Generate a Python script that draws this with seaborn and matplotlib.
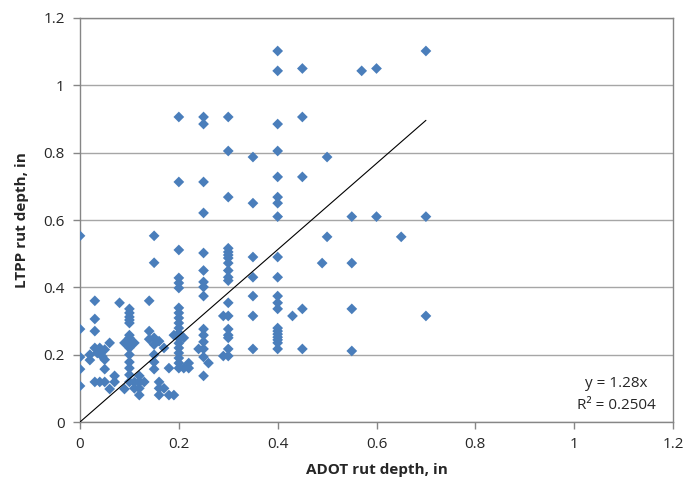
import matplotlib
matplotlib.use("Agg")
import matplotlib.pyplot as plt
import seaborn as sns
import pandas as pd

# ADOT (x) vs LTPP (y) rut depth, grouped by ADOT value
adot_cols = [0.0, 0.02, 0.03, 0.035, 0.04, 0.045, 0.05, 0.06, 0.07, 0.08, 0.09,
             0.1, 0.11, 0.12, 0.13, 0.14, 0.15, 0.16, 0.17, 0.18, 0.19,
             0.2, 0.21, 0.22, 0.24, 0.25, 0.26, 0.29, 0.3, 0.35, 0.4,
             0.43, 0.45, 0.49, 0.5, 0.55, 0.57, 0.6, 0.65, 0.7]
ltpp_vals = [
    [0.553, 0.276, 0.193, 0.157, 0.107],
    [0.2, 0.184],
    [0.36, 0.306, 0.27, 0.22, 0.119],
    [0.205],
    [0.22, 0.205, 0.119],
    [0.195],
    [0.215, 0.185, 0.157, 0.119],
    [0.235, 0.098],
    [0.137, 0.119],
    [0.354],
    [0.235, 0.098],
    [0.336, 0.324, 0.312, 0.303, 0.294, 0.258, 0.25, 0.235, 0.22, 0.2, 0.178, 0.16, 0.14, 0.119],
    [0.235, 0.119, 0.1],
    [0.137, 0.119, 0.1, 0.08],
    [0.119],
    [0.36, 0.27, 0.246],
    [0.553, 0.473, 0.25, 0.23, 0.2, 0.178, 0.157],
    [0.24, 0.119, 0.1, 0.08],
    [0.22, 0.1],
    [0.16, 0.08],
    [0.258, 0.08],
    [0.906, 0.713, 0.511, 0.428, 0.413, 0.398, 0.339, 0.324, 0.309, 0.294, 0.279,
     0.264, 0.249, 0.234, 0.22, 0.205, 0.19, 0.175, 0.16],
    [0.25, 0.16],
    [0.175, 0.16],
    [0.217],
    [0.906, 0.885, 0.713, 0.621, 0.502, 0.45, 0.416, 0.401, 0.374, 0.276, 0.258,
     0.238, 0.217, 0.193, 0.137],
    [0.175],
    [0.315, 0.196],
    [0.906, 0.805, 0.668, 0.516, 0.505, 0.496, 0.487, 0.472, 0.45, 0.43, 0.42,
     0.354, 0.315, 0.276, 0.258, 0.25, 0.217, 0.196],
    [0.787, 0.65, 0.49, 0.43, 0.374, 0.315, 0.217],
    [1.102, 1.043, 0.885, 0.805, 0.728, 0.668, 0.65, 0.61, 0.49, 0.43, 0.374, 0.354,
     0.336, 0.279, 0.27, 0.261, 0.252, 0.244, 0.235, 0.217],
    [0.315],
    [1.05, 0.906, 0.728, 0.336, 0.217],
    [0.472],
    [0.787, 0.55],
    [0.61, 0.472, 0.336, 0.211],
    [1.043],
    [1.05, 0.61],
    [0.55],
    [1.102, 0.61, 0.315],
]
slope = 1.28
fit_x = [0.0, 0.7]
r2_text = "R² = 0.2504"
eq_text = "y = 1.28x"
x_ticks = [0, 0.2, 0.4, 0.6, 0.8, 1, 1.2]
y_ticks = [0, 0.2, 0.4, 0.6, 0.8, 1, 1.2]
tick_labels = ["0", "0.2", "0.4", "0.6", "0.8", "1", "1.2"]

rows = [(xv, yv) for xv, ys in zip(adot_cols, ltpp_vals) for yv in ys]
df = pd.DataFrame(rows, columns=["ADOT", "LTPP"])

sns.set_theme(style="white")
plt.rcParams['font.family'] = ['Open Sans', 'DejaVu Sans']

fig = plt.figure(figsize=(6.88, 4.93), dpi=100)
ax = fig.add_axes([80/688, 71/493, 593/688, 404/493])

ax.set_xlim(0, 1.2)
ax.set_ylim(0, 1.2)
ax.set_yticks(y_ticks)
ax.set_xticks(x_ticks)
ax.set_yticklabels(tick_labels, fontsize=11)
ax.set_xticklabels(tick_labels, fontsize=11)
ax.grid(axis='y', color='#a6a6a6', linewidth=1)
ax.set_axisbelow(True)
for s in ax.spines.values():
    s.set_color('#868686')
    s.set_linewidth(1)
ax.tick_params(axis='both', which='both', direction='out', length=5, color='#868686', width=1,
               left=True, bottom=True, pad=6)

sns.scatterplot(data=df, x="ADOT", y="LTPP", marker="D", s=30, color="#4a7ebb",
                edgecolor="none", linewidth=0, ax=ax, zorder=3)

fit_y = [slope * v for v in fit_x]
ax.plot(fit_x, fit_y, color='black', linewidth=0.8, zorder=4)

ax.set_xlabel("ADOT rut depth, in", fontsize=11, fontweight='bold', labelpad=8)
ax.set_ylabel("LTPP rut depth, in", fontsize=11, fontweight='bold', labelpad=10)

ax.text(1.085, 0.115, eq_text, fontsize=11, ha='center', va='center')
ax.text(1.085, 0.05, r2_text, fontsize=11, ha='center', va='center')

fig.savefig("out.png", dpi=100)
